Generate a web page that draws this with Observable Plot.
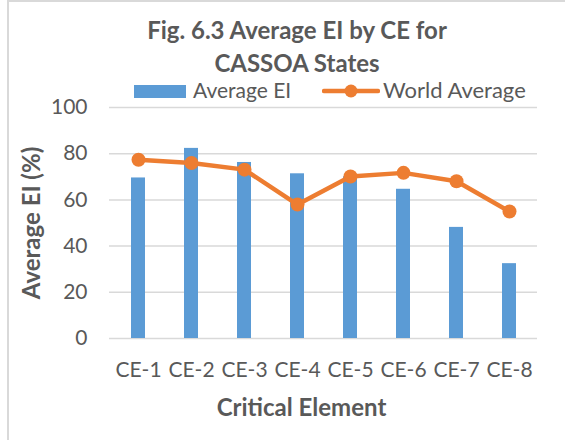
<!DOCTYPE html>
<html>
<head>
<meta charset="utf-8">
<script src="https://cdn.jsdelivr.net/npm/d3@7"></script>
<script src="https://cdn.jsdelivr.net/npm/@observablehq/plot@0.6"></script>
<style>
  html, body { margin: 0; padding: 0; background: #fff; }
  #wrap { position: relative; width: 565px; height: 440px; overflow: hidden; font-family: Lato, "Open Sans", sans-serif; color: #595959; }
  #borderTop { position: absolute; left: 8px; top: 0; width: 557px; height: 2px; background: #d9d9d9; }
  #borderLeft { position: absolute; left: 7px; top: 0; width: 2px; height: 440px; background: #d9d9d9; }
  #title { position: absolute; left: 97px; width: 400px; top: 13px; text-align: center; font-weight: bold; font-size: 24px; line-height: 33px; color: #595959; }
  #legend { position: absolute; top: 78px; left: 0; width: 565px; height: 24px; font-size: 21px; color: #595959; }
  #legend .sw { position: absolute; }
  #legend .lbl { position: absolute; top: -1px; white-space: nowrap; }
  #chart { position: absolute; left: 0; top: 0; }
  #chart svg { font-family: Lato, "Open Sans", sans-serif; }
</style>
</head>
<body>
<div id="wrap">
  <div id="chart"></div>
  <div id="borderTop"></div>
  <div id="borderLeft"></div>
  <div id="title">Fig. 6.3 Average EI by CE for<br>CASSOA States</div>
  <div id="legend"></div>
</div>
<script>
const categories = ["CE-1", "CE-2", "CE-3", "CE-4", "CE-5", "CE-6", "CE-7", "CE-8"];
const averageEI = [69.5, 82.3, 76.2, 71.3, 70.0, 64.6, 48.1, 32.4];
const worldAverage = [77.4, 76.0, 73.1, 58.0, 70.1, 71.7, 68.1, 55.0];
const yTicks = [0, 20, 40, 60, 80, 100];
const seriesNames = ["Average EI", "World Average"];

const blue = "#5B9BD5";
const orange = "#ED7D31";
const textColor = "#595959";

const rows = categories.map((c, i) => ({ce: c, ei: averageEI[i], world: worldAverage[i]}));

const chart = Plot.plot({
  width: 565,
  height: 440,
  marginLeft: 109,
  marginRight: 28,
  marginTop: 107,
  marginBottom: 102,
  style: { fontSize: "21px", color: textColor, background: "transparent" },
  x: { type: "band", domain: categories, paddingInner: 0.74, paddingOuter: 0.37 },
  y: { domain: [0, 100] },
  marks: [
    Plot.gridY(yTicks, { stroke: "#d9d9d9", strokeOpacity: 1, strokeWidth: 1.5 }),
    Plot.barY(rows, { x: "ce", y: "ei", fill: blue }),
    Plot.line(rows, { x: "ce", y: "world", stroke: orange, strokeWidth: 4.5, curve: "linear" }),
    Plot.dot(rows, { x: "ce", y: "world", r: 7, fill: orange, stroke: "none" }),
    Plot.axisY(yTicks, { tickSize: 0, tickPadding: 22, label: null, fill: textColor, fontSize: 21 }),
    Plot.axisX({ tickSize: 0, tickPadding: 24, label: null, fill: textColor, fontSize: 21 }),
    Plot.text(["Average EI (%)"], { frameAnchor: "left", textAnchor: "middle", rotate: -90, dx: -77, fontWeight: "bold", fontSize: 24, fill: textColor }),
    Plot.text(["Critical Element"], { frameAnchor: "bottom", textAnchor: "middle", dy: 77, dx: -22, fontWeight: "bold", fontSize: 24, fill: textColor })
  ]
});
document.getElementById("chart").appendChild(chart);

// Legend
const legend = document.getElementById("legend");
legend.innerHTML = `
  <div class="sw" style="left:134px; top:7px; width:52px; height:13px; background:${blue}"></div>
  <div class="lbl" style="left:193px">${seriesNames[0]}</div>
  <svg class="sw" style="left:322px; top:1px" width="58" height="24">
    <line x1="2" y1="12" x2="56" y2="12" stroke="${orange}" stroke-width="4.5" stroke-linecap="round"></line>
    <circle cx="29" cy="12" r="6.5" fill="${orange}"></circle>
  </svg>
  <div class="lbl" style="left:383px; font-size:22px; top:-2px">${seriesNames[1]}</div>
`;
</script>
</body>
</html>
